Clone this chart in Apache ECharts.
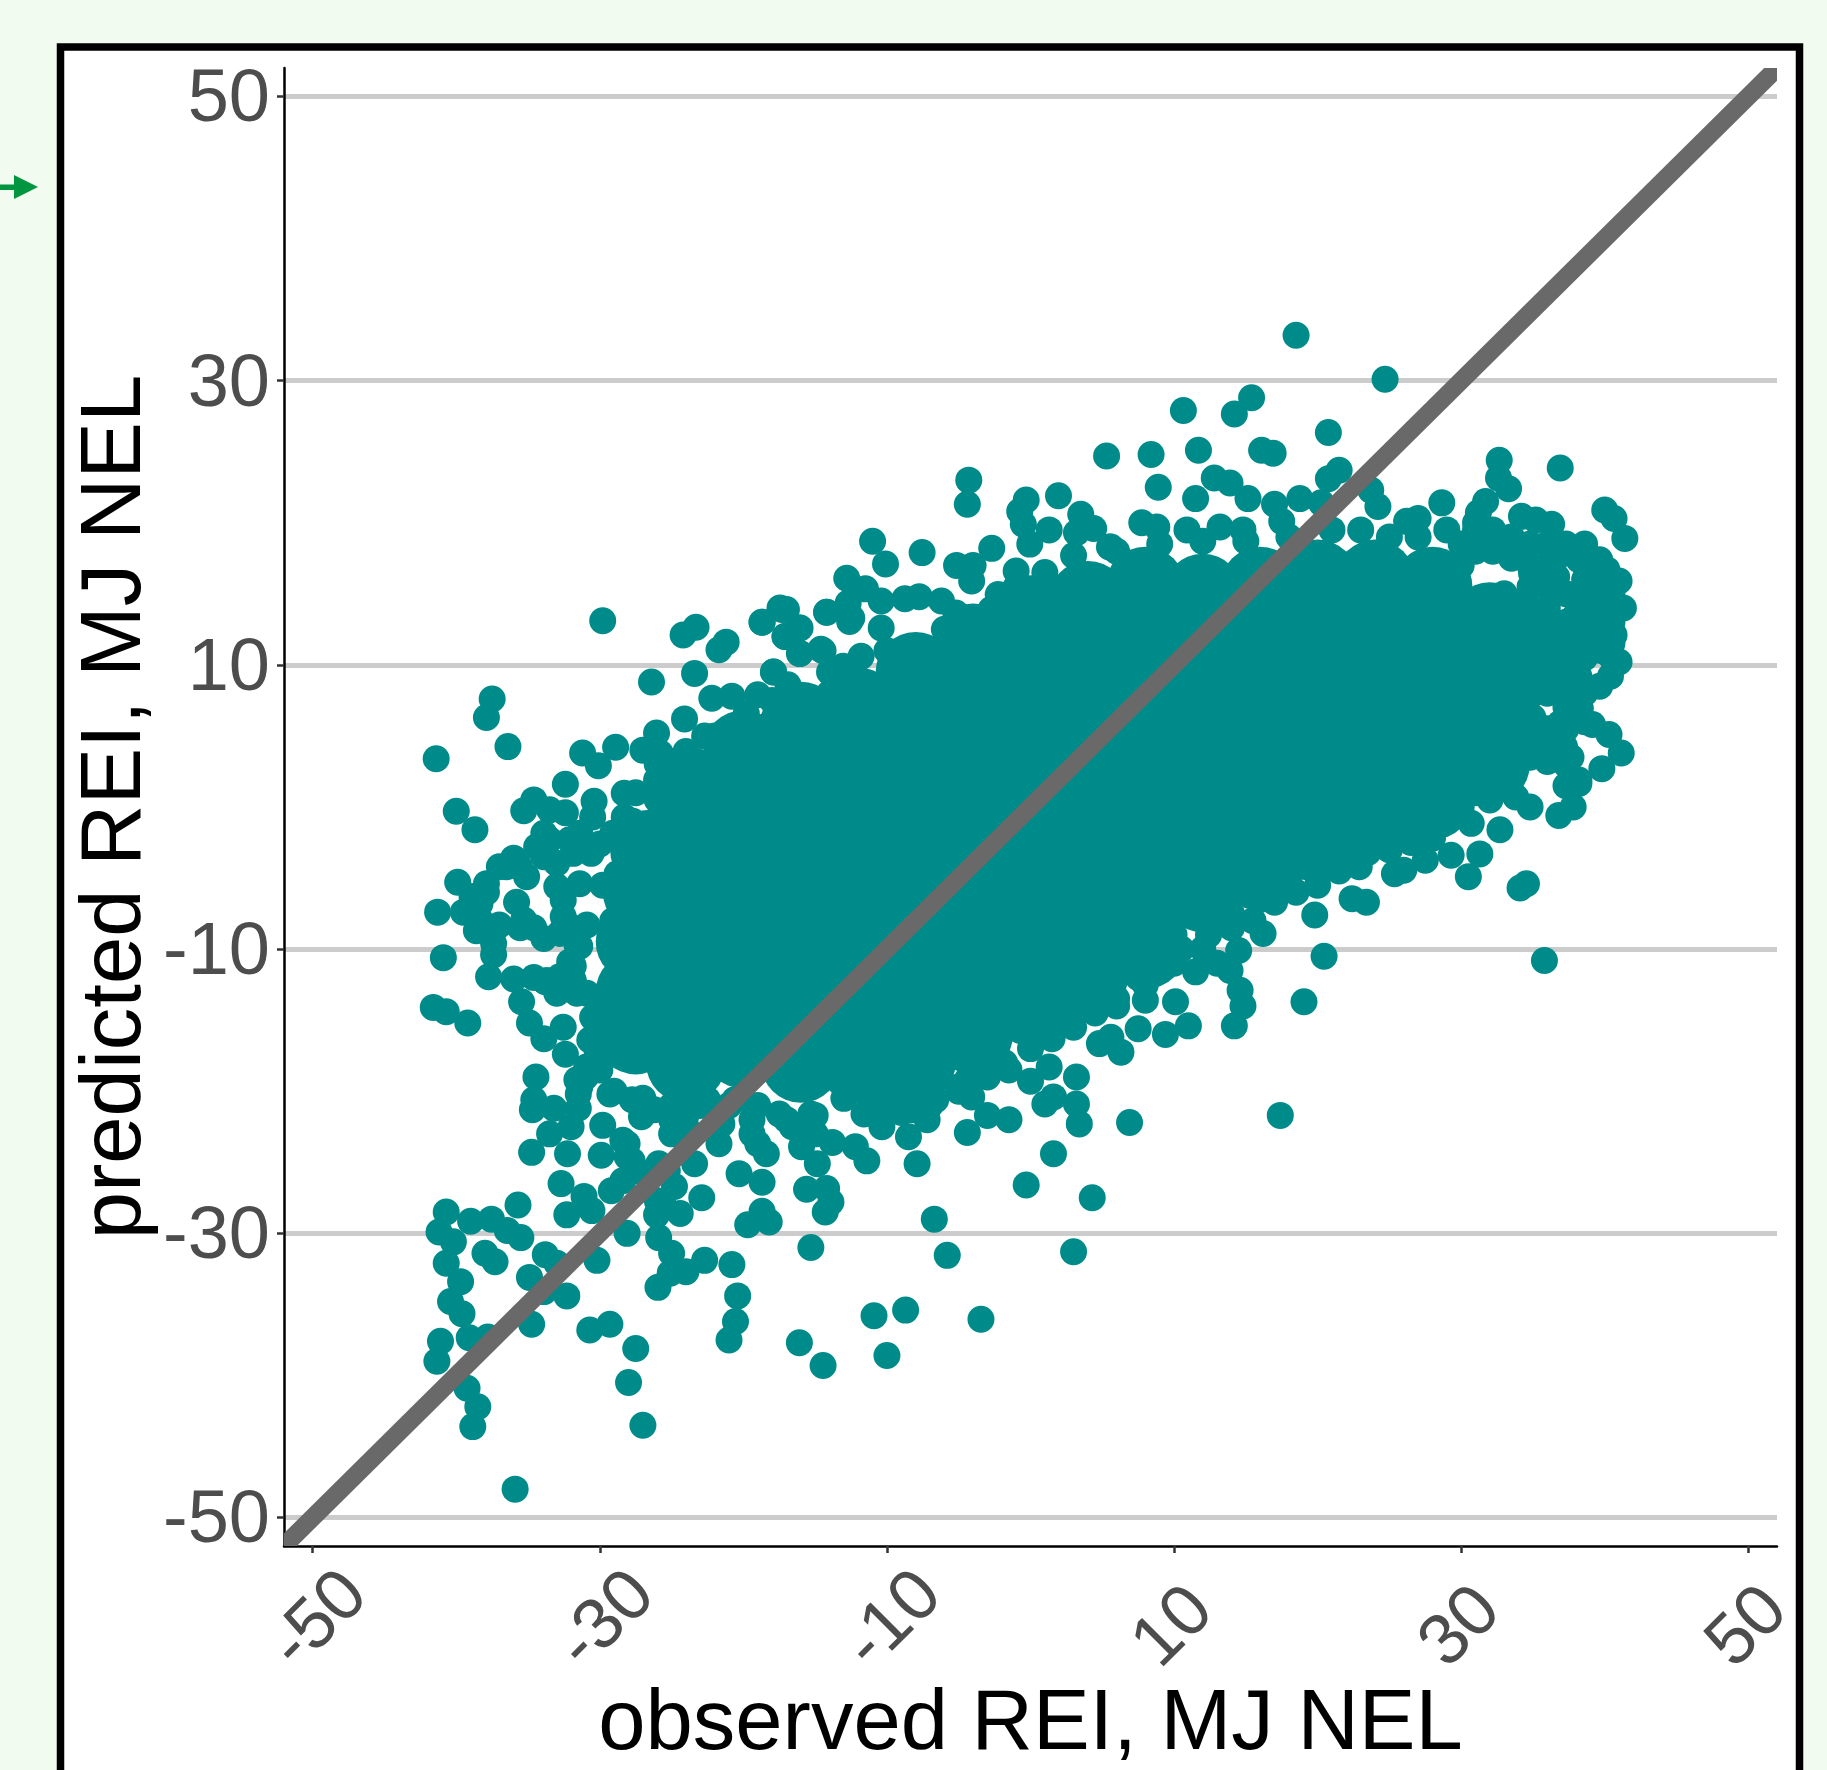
<!DOCTYPE html>
<html>
<head>
<meta charset="utf-8">
<style>html,body{margin:0;padding:0;background:#f2fbf0}#c{width:1827px;height:1770px}</style>
<script src="https://cdn.jsdelivr.net/npm/echarts@6/dist/echarts.min.js"></script>
</head>
<body>
<div id="c"></div>
<script>
const tickValues = [-50,-30,-10,10,30,50];
const xTitle = 'observed REI, MJ NEL';
const yTitle = 'predicted REI, MJ NEL';

const leftDots = [[-29.8,13.1],[-24.2,12.1],[-23.3,12.65],[-21.7,11.06],[-21.2,11.6],[-18.7,13],[-17.3,13.9],[-14.2,13.7],[-12.6,13.05],[-17.1,12],[-16.1,12.6],[-16.1,10.8],[-14.6,11.1],[-23.4,9.4],[-26.4,8.8],[-17.9,9.5],[-37.5,7.6],[-37.9,6.3],[-36.4,4.25],[-41.4,3.4],[-22.2,7.65],[-20.8,7.8],[-19,7.9],[-19.8,6.6],[-24.1,6.2],[-26.05,5.2],[-22.7,5],[-21.4,5],[-27,4],[-25.8,3.8],[-24,3.9],[-31.2,3.8],[-28.9,4.2],[-30.1,2.9],[-32.4,1.6],[-28.3,0.97],[-26.05,1.9],[-30.4,0.4],[-34.6,0.5],[-35.3,-0.26],[-33.5,-0.2],[-32.4,-0.4],[-30.5,-0.7],[-28.3,-0.7],[-40,-0.3],[-38.7,-1.6],[-33.9,-1.85],[-34.4,-2.8],[-31.4,-1.85],[-29.1,-1.85],[-30.6,-3.26],[-31.85,-3.26],[-33,-3.96],[-36,-3.6],[-36.5,-4.2],[-39.9,-5.3],[-37.9,-5.4],[-35.1,-4.9],[-28.8,-4.7],[-31.4,-5.4],[-29.8,-5.5],[-35.8,-6.7],[-38.35,-6.8],[-39.5,-7.4],[-41.3,-7.4],[-32.55,-6.55],[-32.55,-7.7],[-35.3,-7.95],[-30.9,-8.3],[-29.1,-8],[-38.6,-8.7],[-35.55,-8.5],[-33.9,-9.25],[-31.6,-9.7],[-37.4,-9.6],[-37.4,-10.4],[-40.9,-10.6],[-37.75,-11.95],[-36,-12.1],[-32.1,-10.9],[-33.8,-12.3],[-31.85,-12.2],[-32.8,-11.95],[-35.45,-13.7],[-41.6,-14.1],[-40.7,-14.4],[-39.2,-15.2],[-34.9,-15.2],[-32.55,-15.5],[-33.9,-16.3],[-32.4,-17.4],[-34.45,-19],[-30.2,-15.7],[-30.2,-17.1],[-31.4,-19.7],[-30,-13.6],[-34.6,-20.6],[-33.5,-2.3],[-32.1,-2.3],[-30,-2.6],[-33.9,-3.5],[-35.6,-4.2],[-37,-4.2],[-37.9,-6],[-38.9,-6.3],[-38.35,-7.95],[-37,-8.3],[-33,-5.6],[-32.8,-8.9],[-32.1,-8.4],[-31.85,-11.2],[-31.4,-9.8],[-37.4,-8.7],[-34.6,-8.5],[-33.7,-12.2],[-34.6,-12],[-30.9,-13.1],[-33,-13.1],[-31.6,-13.1],[-30.5,-14.8],[-30.7,-16.4],[-30.9,-18.3],[-31.6,-19.2]];

const bottomDots = [[-34.7,-21.3],[-33.2,-21.2],[-31.5,-20.2],[-31.5,-21.2],[-33.5,-23],[-32,-22.5],[-34.75,-24.3],[-32.25,-24.4],[-29.9,-24.5],[-29.8,-22.4],[-27.1,-21.8],[-28.4,-23.45],[-27.75,-24.9],[-24,-21.7],[-25,-23],[-25.9,-25.1],[-23.4,-25.1],[-21.7,-23.7],[-19.4,-23],[-18.4,-24.4],[-20.3,-25.8],[-18.7,-26.4],[-32.7,-26.5],[-31.1,-27.4],[-29.2,-27],[-32.3,-28.7],[-30.55,-28.4],[-24.8,-26.7],[-22.9,-27.5],[-25.6,-27.9],[-26.05,-28.7],[-24.4,-28.6],[-15.6,-26.9],[-14.2,-26.85],[-13.9,-27.8],[-14.3,-28.5],[-18.7,-28.45],[-19.7,-29.4],[-18.2,-29.2],[-15.95,-23.9],[-14.85,-25.1],[-13.8,-23.6],[-12.2,-23.9],[-11.4,-24.9],[-10.35,-22.5],[-8.5,-23.2],[-7.9,-25.1],[-7.2,-22],[-4.4,-22.9],[-3,-21.7],[-1.5,-22],[-4.4,-19.2],[-1.8,-18],[0,-19.3],[1.3,-18.3],[3.2,-19],[1,-20.9],[1.6,-20.4],[3.2,-20.9],[3.4,-22.3],[1.6,-24.4],[-0.3,-26.6],[4.3,-27.5],[-6.7,-29],[-15.3,-31],[-5.8,-31.55],[3,-31.3],[-40.7,-28.5],[-39,-29.15],[-37.55,-29],[-35.7,-28],[-41.2,-29.9],[-40.2,-30.6],[-36.45,-29.8],[-35.5,-30.3],[-38,-31.4],[-37.3,-32],[-40.7,-32.1],[-33.8,-31.5],[-39.7,-33.4],[-34.9,-33.1],[-33,-32.1],[-30.2,-31.9],[-28.1,-30],[-25.9,-30.3],[-25,-31.4],[-22.7,-31.9],[-24,-32.7],[-25.1,-32.8],[-25.95,-33.8],[-20.8,-32.2],[-20.4,-34.4],[-20.55,-36.2],[-21,-37.5],[-40.4,-34.8],[-39.6,-35.65],[-32.3,-34.4],[-33.9,-34.1],[-34.75,-36.4],[-39.1,-37.35],[-37.8,-37.3],[-41.1,-37.6],[-41.35,-39],[-30.7,-36.8],[-29.3,-36.4],[-27.5,-38.1],[-28,-40.5],[-27,-43.5],[-39.25,-40.9],[-38.5,-42.2],[-38.85,-43.6],[-35.9,-48],[-16.1,-37.7],[-14.45,-39.3],[-10.9,-35.8],[-8.7,-35.4],[-10,-38.6],[-3.45,-36.05],[-30.9,-18.3],[-29.3,-20.2],[-27.75,-20.6],[-26.2,-21.3],[-28.1,-23.7],[-28.1,-24.6],[-27.4,-25.6],[-28.4,-26.3],[-25,-22],[-24,-22.5],[-22.5,-20.6],[-20.6,-20.6],[-21.5,-22.3],[-19.4,-22],[-19,-23.7],[-17.5,-21.6],[-15.3,-21.6],[-16.6,-22.5],[-15,-23],[-11.6,-21.6],[-10.35,-21.6],[-9.7,-20.6],[-8.2,-21.3],[-6.6,-20.6],[-4.1,-20.4],[-5,-19.7],[-3.8,-18.3],[-26,-27.7],[-25.3,-25.6]];

const topDots = [[18.5,33.2],[24.7,30.1],[15.4,28.8],[14.2,27.65],[10.65,27.9],[20.75,26.35],[16.1,25.1],[16.9,24.9],[11.7,25.1],[8.4,24.8],[5.3,24.7],[8.9,22.5],[36.9,23.85],[32.65,24.4],[32.6,23.15],[33.3,22.4],[40,20.9],[40.65,20.3],[41.4,18.9],[12.8,23.15],[13.9,22.8],[11.5,21.7],[15.15,21.7],[17,21.3],[18.76,21.7],[20.75,23.1],[21.5,23.7],[20.25,21.4],[23.7,22.3],[24.2,21.15],[7.75,20],[8.8,19.7],[10.9,19.5],[13.2,19.7],[14.8,19.5],[17.5,20.1],[26.2,20.1],[27,20.3],[28.65,21.4],[31.7,21.5],[31.2,20.7],[34.2,20.45],[35.2,20.2],[36.3,19.9],[5.6,18.3],[-4.3,23],[-4.4,21.3],[1.95,21.9],[-0.3,21.6],[-0.75,20.8],[-0.5,19.9],[1.3,19.5],[3.5,20.6],[4.4,19.6],[5.5,18.3],[3.2,19.3],[-0.05,18.5],[-2.7,18.2],[-5.15,17],[-4,17],[-4.1,15.9],[-1,16.6],[-7.55,17.9],[-11,18.7],[-10.1,17.1],[-12.8,16.1],[-11.5,15.35],[-12.7,14.35],[-14.2,13.7],[-12.45,13.3],[-10.4,14.5],[-8.75,14.65],[-7.75,14.8],[-6.2,14.5],[-5.2,13.65],[-2.75,13.9],[-2.25,14.95],[-10.4,12.6],[-17.45,14],[-17,13.9],[-18.7,13],[-16.05,12.6],[-17.1,12],[-16.05,10.8],[-14.45,11],[-11.8,10.6],[-13.05,9.9],[-17.9,9.5],[-16.9,8.6]];

const rightDots = [[36.9,17.75],[38.2,17.4],[39.65,17.4],[40.15,16.7],[41,15.9],[41.3,14],[40.65,12.1],[41,10.2],[39.65,8.5],[40.4,9.2],[38.3,6.95],[39.15,5.8],[40.3,5.1],[41.15,3.8],[39.8,2.7],[38.2,1.9],[37.65,3.5],[32.2,19.3],[33.4,17.9],[34.9,16.45],[36.65,16.2],[38.9,15.75],[37.9,13.4],[39.65,13.2],[38.9,11.05],[37.2,11.05],[35.7,13.2],[32.9,13.9],[36.9,8.7],[38.2,9.2],[35.9,9.9],[36.9,5.9],[37.2,4.25],[35.9,3.8],[37.65,1.9],[38.2,1.65],[37.8,0],[36.8,-0.6],[34.8,0],[33.8,0.7],[32.7,-1.6],[30.7,-1.15],[31.3,-3.3],[29.3,-3.4],[30.5,-4.9],[34.55,-5.4],[34.1,-5.7],[27.5,-3.75],[26,-4.45],[25.35,-4.7],[23.4,-6.7],[22.4,-6.45],[22.9,-4.2],[19.8,-7.6],[20.45,-10.5],[35.8,-10.8],[19.05,-13.7],[17.4,-21.7],[6.9,-22.2],[16.2,-8.9],[14.5,-10.1],[12.4,-9],[13,-11],[11.5,-11.6],[13.9,-11.5],[14.6,-12.9],[14.8,-14],[14.2,-15.4],[11,-15.4],[9.4,-16],[10.1,-13.7],[7.5,-15.6],[6.3,-17.25],[8,-13.6],[5.6,-16.2],[4.8,-16.65],[33.5,19],[33.5,17.5],[33.5,13.5],[33.5,12],[33.5,10.5],[33.5,9],[33.5,7.5],[33.5,6],[33.5,4.5],[33.5,3],[34.8,18.5],[34.8,17],[34.8,13.5],[34.8,12],[34.8,11.2],[34.8,10],[34.8,8.5],[34.8,7.8],[35,6.3],[34.8,5],[34.8,3.5],[34.8,15.5],[34.5,14.5],[36,18.5],[36,17],[36,15.5],[36,14],[36,12.5],[36,11],[36,9.5],[36,8],[36,5.5],[36,4.5],[36,3.2],[37.3,18.5],[37.3,15],[37.3,13],[37.3,12],[37.3,10],[37.3,8.5],[37.3,7],[37.3,5.5],[37.3,3],[37.3,1.5],[38.6,18.5],[38.6,16],[38.6,14.5],[38.6,13],[38.6,12],[38.6,10.5],[38.6,8],[38.6,6],[39.8,15.5],[39.8,14],[39.8,12.5],[39.8,11],[40.5,15],[40.5,13],[40.5,11.5],[40.5,10.5],[32.2,19.5],[32.2,18],[31,19.5],[31,18],[30,18.5],[30,17],[29.7,15.5],[33,15]];

const edgeDots = [[33,2],[32,0.5],[31,1],[29.5,-0.5],[28,-2.2],[26.5,-2.5],[25,-3],[23.5,-3.2],[21.5,-4.5],[20,-5.5],[18.5,-6],[17,-6.7],[15.5,-8],[14,-8.5],[12,-7.5],[10.5,-10],[9,-11.5],[7.5,-12],[6,-13.5],[4.5,-14.5],[3,-15.5],[1.5,-16.3],[0,-17],[-1.5,-18.5],[-3,-19],[-5,-20],[-7,-21],[-9,-21.5],[-11,-21],[-13,-20.5],[-15,-21.7],[-17,-22],[-19,-21],[-21,-21],[-23,-21],[-25,-21],[-27,-20.5],[-29,-20],[-31,-19],[-30,-18.5],[10,-9],[12,-10],[14,-7.5],[10,-11],[6,-14],[8,-12.5],[3,-14],[2,-15],[16,-6.5],[18,-5],[20,-4.5],[22,-3],[24,-2.5],[26,-2],[28,-1],[30,0],[32,1],[5,-13],[6,18],[9,18.5],[12,18.7],[15,18.7],[18,19],[21,19.5],[23,19.5],[25,19],[27,19],[29,19.5],[31,20],[-1,15.5],[1,16.5],[3,17.7],[-14,9.5],[-10,11],[-6,12.5],[-2,13.5],[-18,7.5],[-22,5],[-26,3],[-27.5,1],[-27.7,-1],[-6,11],[-14,8],[-18,6],[-26,0.5],[-22,3]];

const denseCore = [[-27.5,-16],[-27.5,-13],[-27.5,-9.5],[-27,-6],[-26.5,-3],[-24,-18],[-24,-15],[-24,-11.5],[-24,-8],[-24,-4.5],[-24,-1],[-24,1.5],[-20,-17],[-20,-13.5],[-20,-10],[-20,-6.5],[-20,-3],[-20,0.5],[-20,4],[-16,-18],[-16,-14.5],[-16,-11],[-16,-7.5],[-16,-4],[-16,-0.5],[-16,3],[-16,6],[-12,-18],[-12,-14.5],[-12,-11],[-12,-7.5],[-12,-4],[-12,-0.5],[-12,3],[-12,7],[-8,-18],[-8,-14.5],[-8,-11],[-8,-7.5],[-8,-4],[-8,-0.5],[-8,3],[-8,6.5],[-8,9.5],[-4,-16],[-4,-12.5],[-4,-9],[-4,-5.5],[-4,-2],[-4,1.5],[-4,5],[-4,8.5],[-4,11.5],[0,-14],[0,-10.5],[0,-7],[0,-3.5],[0,0],[0,3.5],[0,7],[0,10.5],[0,13.5],[4,-12],[4,-8.5],[4,-5],[4,-1.5],[4,2],[4,5.5],[4,9],[4,12.5],[4,14.5],[8,-10],[8,-6.5],[8,-3],[8,0.5],[8,4],[8,7.5],[8,11],[8,14.5],[8,15.5],[12,-6],[12,-2.5],[12,1],[12,4.5],[12,8],[12,11.5],[12,15],[16,-4.5],[16,-1],[16,2.5],[16,6],[16,9.5],[16,13],[16,15.5],[20,-2.5],[20,1],[20,4.5],[20,8],[20,11.5],[20,15],[20,16],[24,-0.5],[24,3],[24,6.5],[24,10],[24,13.5],[24,16],[28,0.5],[28,4],[28,7.5],[28,11],[28,14.5],[28,15.5],[32,3],[32,6.5],[32,10],[32,13]];

const identityLine = [[-60,-60,60,60]];

const LABEL = '#4d4d4d', FONT = '"Liberation Sans", Arial, sans-serif', TEAL = '#008b8b';
const chart = echarts.init(document.getElementById('c'), null, {renderer:'canvas'});
chart.setOption({
  animation:false,
  backgroundColor:'#f2fbf0',
  graphic:[
    {type:'rect',z:-10,silent:true,shape:{x:60.5,y:47,width:1739,height:1800},style:{fill:'#fff',stroke:'#000',lineWidth:7.5}},
    {type:'rect',z:-10,silent:true,shape:{x:0,y:184.5,width:15,height:5.5},style:{fill:'#00963f'}},
    {type:'polygon',z:-10,silent:true,shape:{points:[[14,175],[38,187],[14,199]]},style:{fill:'#00963f'}}
  ],
  grid:{left:284,top:68,width:1493,height:1478,containLabel:false,outerBoundsMode:'none'},
  xAxis:{
    type:'value',min:-52,max:52,
    name:xTitle,nameLocation:'middle',nameGap:137,nameMoveOverlap:false,
    nameTextStyle:{fontFamily:FONT,fontSize:85,color:'#000'},
    axisLine:{show:true,onZero:false,lineStyle:{color:'#000',width:2.5}},
    axisTick:{show:true,length:7,customValues:tickValues,lineStyle:{color:'#333',width:2.5}},
    axisLabel:{
      show:true,rotate:45,align:'center',verticalAlign:'middle',margin:82,
      customValues:tickValues,color:LABEL,fontFamily:FONT,fontSize:72,
      formatter:v=>v<0?`{neg|${v}}`:`${v}`,
      rich:{neg:{color:LABEL,fontFamily:FONT,fontSize:72,padding:[0,0,0,20]}}
    },
    splitLine:{show:false}
  },
  yAxis:{
    type:'value',min:-52,max:52,
    name:yTitle,nameLocation:'middle',nameGap:125,nameMoveOverlap:false,
    nameTextStyle:{fontFamily:FONT,fontSize:85,color:'#000'},
    axisLine:{show:true,onZero:false,lineStyle:{color:'#000',width:2.5}},
    axisTick:{show:true,length:7,customValues:tickValues,lineStyle:{color:'#333',width:2.5}},
    axisLabel:{show:true,margin:14,customValues:tickValues,color:LABEL,fontFamily:FONT,fontSize:74,
      formatter:v=>`{t|${v}}`,
      rich:{t:{color:LABEL,fontFamily:FONT,fontSize:74,padding:[9,0,0,0]}}},
    splitLine:{show:true,lineStyle:{color:'#cccccc',width:5}}
  },
  series:[
    {type:'scatter',name:'dense core',data:denseCore,symbol:'circle',symbolSize:80,z:3,itemStyle:{color:TEAL,opacity:1},silent:true},
    ...[edgeDots,leftDots,bottomDots,topDots,rightDots].map(d=>({type:'scatter',data:d,symbol:'circle',symbolSize:27,z:3,itemStyle:{color:TEAL,opacity:1},silent:true})),
    {type:'custom',data:identityLine,clip:true,z:5,silent:true,encode:{x:[0,2],y:[1,3]},
     renderItem:(p,api)=>{
       const a=api.coord([api.value(0),api.value(1)]), b=api.coord([api.value(2),api.value(3)]);
       return {type:'line',shape:{x1:a[0],y1:a[1],x2:b[0],y2:b[1]},style:{stroke:'#696969',lineWidth:18,fill:null}};
     }}
  ]
});
</script>
</body>
</html>
